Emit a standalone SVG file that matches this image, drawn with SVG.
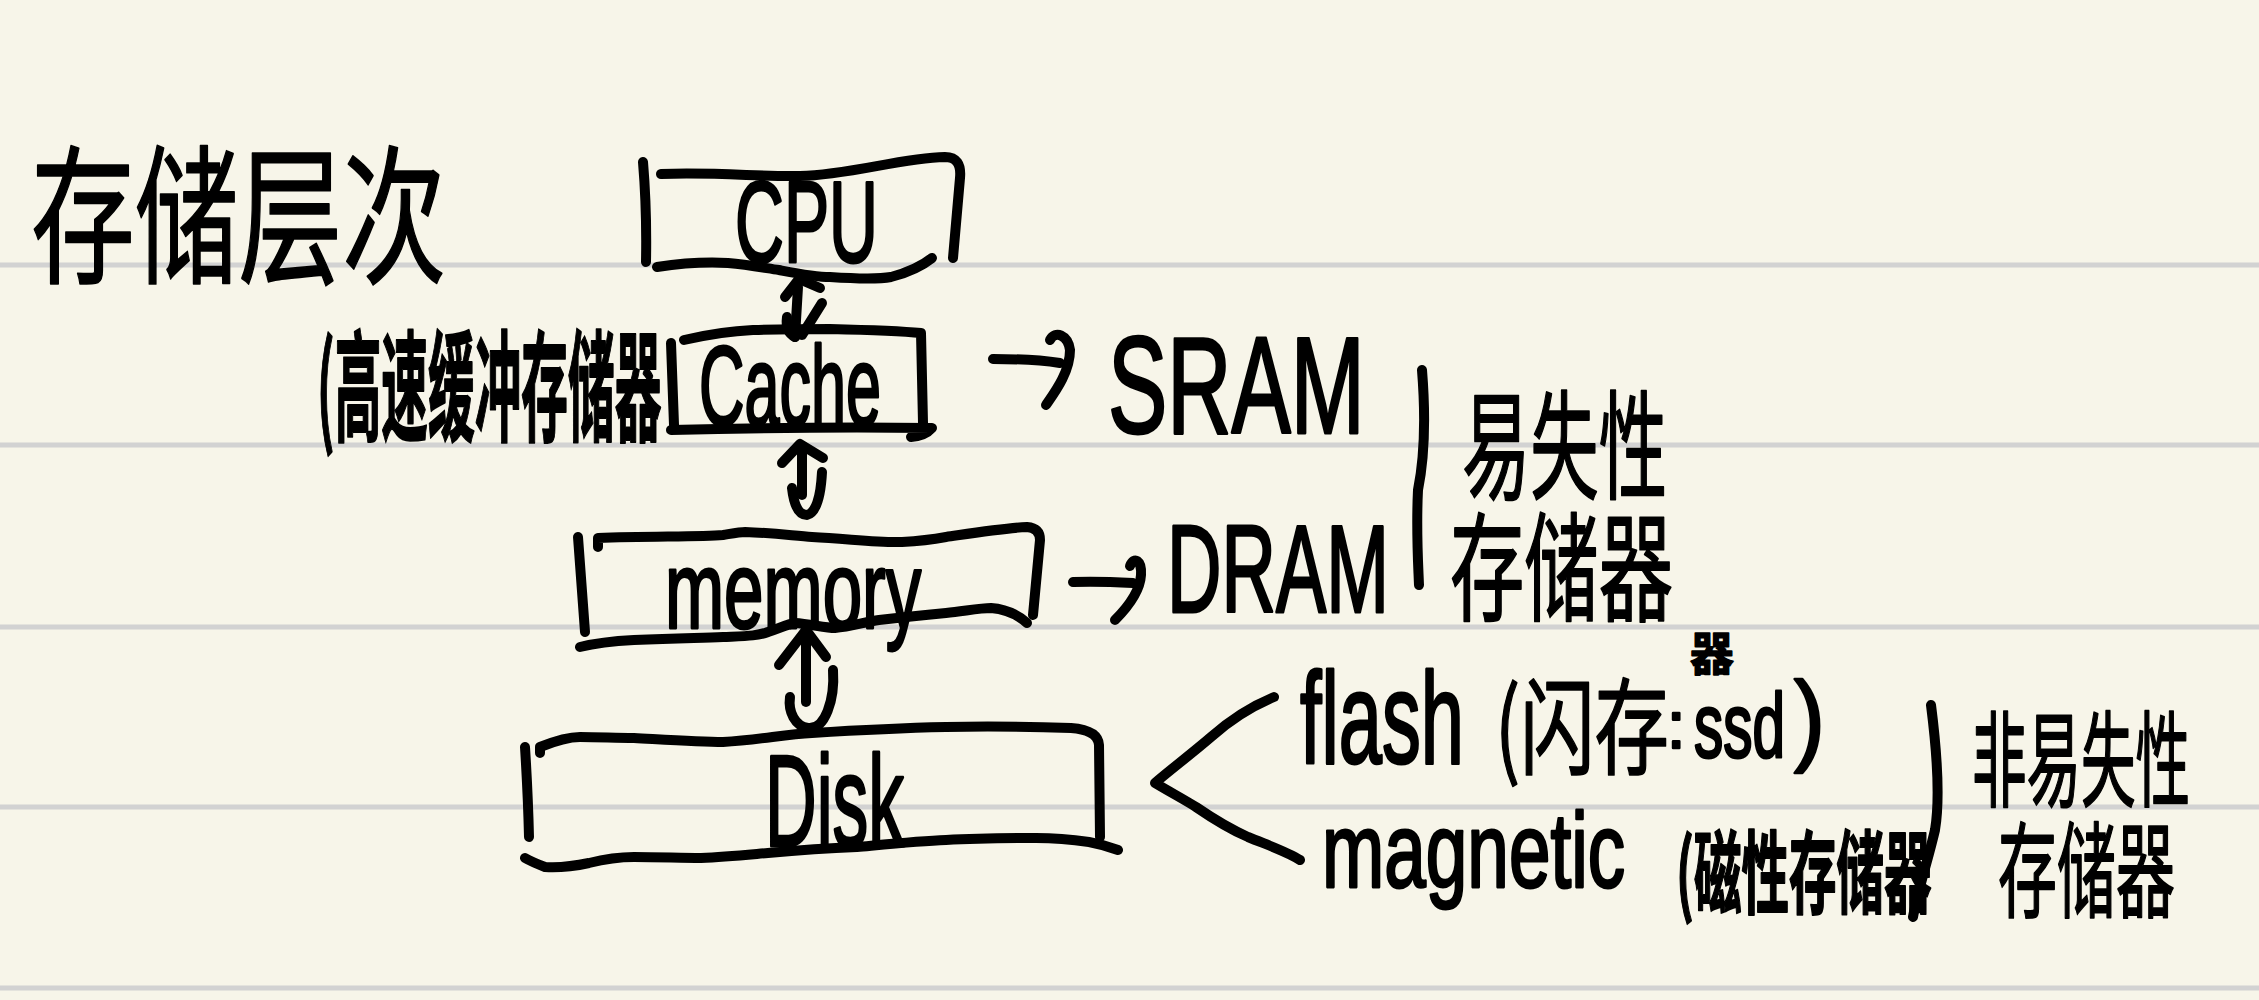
<svg xmlns="http://www.w3.org/2000/svg" width="2259" height="1000" viewBox="0 0 2259 1000">
<style>
.ink{fill:none;stroke:#000;stroke-width:10;stroke-linecap:round;stroke-linejoin:round}
.rule{stroke:#d2d2d2;stroke-width:5}
.lat{font-family:"Liberation Sans",Arial,sans-serif;fill:#000;stroke:#000;stroke-width:2.5;stroke-linejoin:round;vector-effect:non-scaling-stroke}
.cjk{font-family:"Noto Sans CJK SC","Noto Sans",sans-serif;fill:#000;stroke:#000;stroke-width:1.5;stroke-linejoin:round;vector-effect:non-scaling-stroke}
.bold{font-weight:700}
</style>
<rect width="2259" height="1000" fill="#f7f5e9"/>
<g id="rules">
<line class="rule" x1="0" y1="265" x2="2259" y2="265"/>
<line class="rule" x1="0" y1="445" x2="2259" y2="445"/>
<line class="rule" x1="0" y1="627" x2="2259" y2="627"/>
<line class="rule" x1="0" y1="807" x2="2259" y2="807"/>
<line class="rule" x1="0" y1="988" x2="2259" y2="988"/>
</g>
<g id="title">
<text class="cjk" transform="translate(31,272) scale(0.692,1)" font-size="150">存储层次</text>
</g>
<g id="cpu">
<path class="ink" d="M643,162 Q647,210 646,262"/>
<path class="ink" d="M661,174 C720,172 760,177 800,176 C850,175 900,158 945,157 Q962,157 960,178 L953,258"/>
<path class="ink" d="M657,267 C690,262 710,262 728,263 C750,265 765,268 779,270 C800,274 815,277 830,277 C860,279 880,279 891,277 C910,272 922,266 932,258"/>
<text class="lat" transform="translate(735,262) scale(0.589,1)" font-size="115">CPU</text>
</g>
<g id="cache">
<path class="ink" d="M671,343 L674,425"/>
<path class="ink" d="M684,340 C710,334 730,331 753,330 C790,329 810,329 830,329 C870,330 900,331 921,333 L923,423"/>
<path class="ink" d="M671,430 C750,428 850,427 932,428 Q925,436 911,437"/>
<text class="lat" transform="translate(699,425) scale(0.552,1)" font-size="114">Cache</text>
<text class="cjk bold" transform="translate(317,432) scale(0.389,1)" font-size="120">(高速缓冲存储器</text>
</g>
<g id="memory">
<path class="ink" d="M578,537 Q582,590 585,632"/>
<path class="ink" d="M598,547 L598,538 C650,536 700,537 723,535 C735,533 740,532 745,532 C775,533 795,536 812,537 C850,539 880,543 902,542 C920,541 935,539 946,537 C980,532 1005,528 1027,527 Q1040,528 1040,540 L1033,615"/>
<path class="ink" d="M580,647 C600,642 615,641 634,640 C680,638 700,638 723,637 C745,636 758,636 768,632 C780,628 788,624 795,623 C810,624 825,628 835,628 C850,627 865,622 879,620 C905,617 925,615 946,613 C965,611 980,608 991,608 C1005,609 1018,615 1027,623"/>
<text class="lat" transform="translate(665,628) scale(0.645,1)" font-size="110">memory</text>
</g>
<g id="disk">
<path class="ink" d="M525,747 Q528,795 529,837"/>
<path class="ink" d="M540,753 L540,747 C555,741 568,737 580,737 C600,737 615,738 634,738 C670,740 700,742 723,742 C760,740 785,734 812,733 C860,730 900,728 946,727 C1000,726 1040,727 1071,728 Q1098,730 1099,745 L1100,837"/>
<path class="ink" d="M525,858 Q532,862 545,867 C560,868 575,866 589,863 C605,859 620,857 634,857 C660,857 680,858 701,858 C725,857 745,855 768,853 C800,850 830,848 857,847 C890,844 920,841 946,840 C980,838 1010,838 1036,838 C1055,838 1075,840 1089,842 C1100,844 1110,847 1118,850"/>
<text class="lat" transform="translate(765,846) scale(0.55,1)" font-size="130">Disk</text>
</g>
<g id="sram">
<text class="lat" transform="translate(1108,433) scale(0.649,1)" font-size="137">SRAM</text>
</g>
<g id="dram">
<text class="lat" transform="translate(1167,612) scale(0.608,1)" font-size="124">DRAM</text>
</g>
<g id="volatile">
<path class="ink" d="M1422,370 C1426,420 1424,460 1418,490 C1416,530 1418,560 1419,585"/>
<text class="cjk" transform="translate(1462,490) scale(0.579,1)" font-size="118">易失性</text>
<text class="cjk" transform="translate(1450,612) scale(0.63,1)" font-size="118">存储器</text>
</g>
<g id="flash">
<text class="lat" transform="translate(1300,763) scale(0.597,1)" font-size="130">flash</text>
<text class="cjk" transform="translate(1495,766) scale(0.708,1)" font-size="105">(闪存</text>
<text class="lat" x="1667" y="748" font-size="66">:</text>
<text class="cjk bold" transform="translate(1690,670) scale(0.95,1)" font-size="46">器</text>
<text class="lat" transform="translate(1694,757) scale(0.65,1)" font-size="90">ssd</text>
<text class="lat" transform="translate(1794,752) scale(0.93,1)" font-size="100">)</text>
</g>
<g id="magnetic">
<text class="lat" transform="translate(1322,887) scale(0.705,1)" font-size="106">magnetic</text>
<text class="cjk bold" transform="translate(1676,906) scale(0.528,1)" font-size="90">(磁性存储器</text>
</g>
<g id="nonvolatile">
<path class="ink" d="M1931,705 C1938,760 1940,800 1935,830 C1928,860 1918,890 1913,917"/>
<text class="cjk" transform="translate(1972,799) scale(0.524,1)" font-size="104">非易失性</text>
<text class="cjk" transform="translate(1998,910) scale(0.567,1)" font-size="104">存储器</text>
</g>
<g id="connectors">
<path class="ink" d="M798,287 L795,337"/>
<path class="ink" d="M785,297 L799,279 L820,288"/>
<path class="ink" d="M822,303 L802,335"/>
<path class="ink" d="M787,317 Q785,332 795,337"/>
<path class="ink" d="M782,463 L800,444 L823,458"/>
<path class="ink" d="M802,446 L802,495"/>
<path class="ink" d="M792,488 Q795,515 807,515 Q820,512 822,472"/>
<path class="ink" d="M779,665 L806,630 L826,657"/>
<path class="ink" d="M806,632 L806,702"/>
<path class="ink" d="M833,670 C835,700 825,730 808,728 C795,726 788,712 790,697"/>
<path class="ink" d="M993,359 C1020,359 1040,360 1060,363"/>
<path class="ink" d="M1050,340 C1055,330 1068,335 1070,350 C1070,372 1055,392 1046,405"/>
<path class="ink" d="M1073,582 C1095,581 1115,582 1133,583"/>
<path class="ink" d="M1130,566 C1134,556 1142,560 1141,575 C1140,592 1125,610 1115,620"/>
<path class="ink" d="M1274,697 C1250,707 1230,720 1211,737 C1190,755 1170,770 1155,783 C1170,792 1185,800 1196,807 C1215,820 1232,830 1248,837 C1270,846 1288,852 1300,860"/>
</g>
</svg>
